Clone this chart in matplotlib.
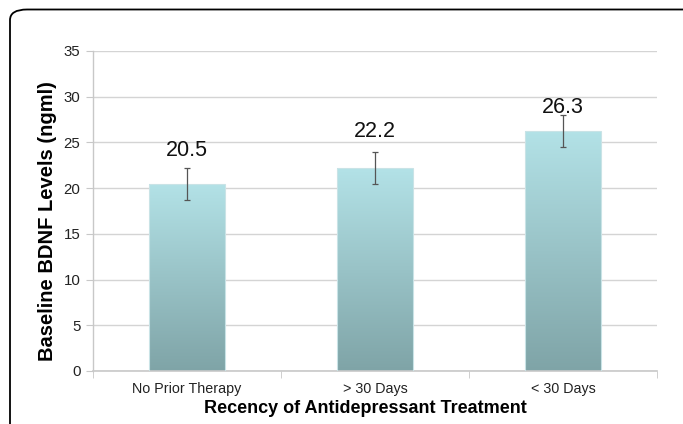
import numpy as np
import matplotlib
matplotlib.use("Agg")
import matplotlib.pyplot as plt
from matplotlib.patches import FancyBboxPatch
from matplotlib.colors import LinearSegmentedColormap

categories = ["No Prior Therapy", "> 30 Days", "< 30 Days"]
values = [20.5, 22.2, 26.3]
errors = [1.75, 1.8, 1.75]
yticks = [0, 5, 10, 15, 20, 25, 30, 35]

plt.rcParams['font.family'] = ['Liberation Sans', 'DejaVu Sans']

fig = plt.figure(figsize=(6.83, 4.24), dpi=100)
# rounded outer frame (clipped at right and bottom as in reference)
frame = FancyBboxPatch((10/683, -0.2), 1.2, 1 - 9.5/424 + 0.2,
                       boxstyle="round,pad=0,rounding_size=0.025",
                       transform=fig.transFigure, fill=False,
                       edgecolor='black', linewidth=1.3, clip_on=False)
fig.patches.append(frame)

ax = fig.add_axes([93/683, 1 - 371/424, (657 - 93)/683, (371 - 51)/424])
x = np.arange(len(categories))
bars = ax.bar(x, values, width=0.4, color='none', edgecolor='#c9e3e6',
              linewidth=0.8, zorder=3)

cmap = LinearSegmentedColormap.from_list('g', ['#7fa4a7', '#b3e2e7'])
grad = np.linspace(0, 1, 256).reshape(-1, 1)
for b in bars:
    x0 = b.get_x()
    w, h = b.get_width(), b.get_height()
    im = ax.imshow(grad, extent=[x0, x0 + w, 0, h], origin='lower',
                   cmap=cmap, aspect='auto', zorder=2.5, vmin=0, vmax=1)
    im.set_clip_path(b)

ax.errorbar(x, values, yerr=errors, fmt='none', ecolor='#555555',
            elinewidth=0.9, capsize=2.5, capthick=0.9, zorder=4)

# gap (points) between error-bar top and the value label baseline, as in the reference
label_gaps = [8.4, 10.8, 1.4]
for xi, v, e, g in zip(x, values, errors, label_gaps):
    ax.annotate(f"{v}", (xi, v + e), xytext=(0, g), textcoords='offset points',
                ha='center', va='baseline', fontsize=15.5, color='#111111')

ax.set_xlim(-0.5, len(categories) - 0.5)
ax.set_ylim(0, 35)
ax.set_yticks(yticks)
ax.set_yticklabels([str(t) for t in yticks])
ax.set_xticks(x)
ax.set_xticklabels(categories)
ax.set_xticks(np.arange(-0.5, len(categories)), minor=True)

ax.yaxis.grid(True, color='#d4d4d4', linewidth=1.0, zorder=0)
ax.set_axisbelow(True)
for s in ['top', 'right']:
    ax.spines[s].set_visible(False)
ax.spines['left'].set_color('#c8c8c8')
ax.spines['bottom'].set_color('#c8c8c8')
ax.spines['left'].set_linewidth(1.0)
ax.spines['bottom'].set_linewidth(1.2)

ax.tick_params(axis='y', length=5, color='#c8c8c8', labelsize=10.8, labelcolor='#222222', pad=4)
ax.tick_params(axis='x', which='major', length=0, labelsize=10.3, labelcolor='#222222', pad=8)
ax.tick_params(axis='x', which='minor', length=5, color='#c8c8c8')

ax.set_ylabel("Baseline BDNF Levels (ngml)", fontsize=14.5, fontweight='bold')
ax.set_xlabel("Recency of Antidepressant Treatment", fontsize=13, fontweight='bold')
ax.yaxis.set_label_coords(-0.064, 0.47)
ax.xaxis.set_label_coords(0.483, -0.091)

fig.savefig("out.png", dpi=100)
